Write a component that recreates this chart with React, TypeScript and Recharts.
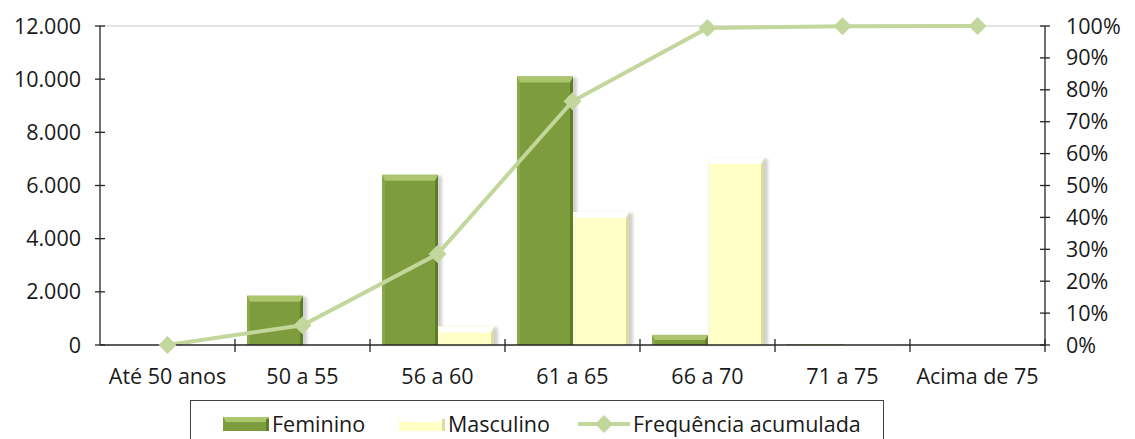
import React from 'react';
import { ComposedChart, Bar, Line, XAxis, YAxis, ReferenceLine } from 'recharts';

const categories = ['Até 50 anos', '50 a 55', '56 a 60', '61 a 65', '66 a 70', '71 a 75', 'Acima de 75'];
const feminino = [0, 1850, 6400, 10100, 380, 20, 0];
const masculino = [0, 0, 700, 5000, 7030, 15, 0];
const frequenciaAcumulada = [0, 6.2, 28.5, 76.4, 99.4, 99.9, 100];
const countTicks = [0, 2000, 4000, 6000, 8000, 10000, 12000];
const percentTicks = [0, 10, 20, 30, 40, 50, 60, 70, 80, 90, 100];

const data = categories.map((name, i) => ({
  name,
  feminino: feminino[i],
  masculino: masculino[i],
  freq: frequenciaAcumulada[i]
}));

const FONT = '"Open Sans", "Noto Sans", sans-serif';
const FONT_SIZE = 21.5;
const TEXT = '#1a1a1a';
const AXIS = '#262626';
const LINE_COLOR = '#c3d69b';

const femColors = { base: '#7d9c3d', top: '#abc66c', left: '#8aa84a', right: '#5f7c27' };
const mascColors = { base: '#ffffc6', top: '#ffffff', left: '#fbfbd8', right: '#dcdca0' };

const formatCount = (v: number) => String(v).replace(/\B(?=(\d{3})+(?!\d))/g, '.');

const bevelBar = (c: typeof femColors) => (props: any) => {
  const { x, y, width, height } = props;
  if (!height || height <= 0) return null;
  const b = Math.min(6, height / 2, width / 4);
  const s = Math.min(3, width / 6);
  return (
    <g>
      <rect x={x + 2} y={y + 1} width={width + 2} height={height - 1} fill="#000" opacity={0.18} filter="url(#soft)" />
      <rect x={x} y={y} width={width} height={height} fill={c.base} />
      <polygon points={`${x},${y} ${x + s},${y + b} ${x + s},${y + height} ${x},${y + height}`} fill={c.left} />
      <polygon
        points={`${x + width},${y} ${x + width - s},${y + b} ${x + width - s},${y + height} ${x + width},${y + height}`}
        fill={c.right}
      />
      <polygon points={`${x},${y} ${x + width},${y} ${x + width - s},${y + b} ${x + s},${y + b}`} fill={c.top} />
    </g>
  );
};

const Diamond = (props: any) => {
  const { cx, cy } = props;
  if (cx == null || cy == null) return null;
  const r = 9;
  return <polygon points={`${cx},${cy - r} ${cx + r},${cy} ${cx},${cy + r} ${cx - r},${cy}`} fill={LINE_COLOR} />;
};

const LeftTick = (props: any) => {
  const { x, y, payload } = props;
  return (
    <g>
      <line x1={x + 14} x2={x + 24} y1={y} y2={y} stroke={AXIS} strokeWidth={1.3} />
      <text x={x} y={y} dy="0.35em" textAnchor="end" fill={TEXT} fontSize={FONT_SIZE} fontFamily={FONT}>
        {formatCount(payload.value)}
      </text>
    </g>
  );
};

const RightTick = (props: any) => {
  const { x, y, payload } = props;
  return (
    <g>
      <line x1={x - 26} x2={x - 16} y1={y} y2={y} stroke={AXIS} strokeWidth={1.3} />
      <text x={x} y={y} dy="0.35em" textAnchor="start" fill={TEXT} fontSize={FONT_SIZE} fontFamily={FONT}>
        {payload.value}%
      </text>
    </g>
  );
};

const BottomTick = (props: any) => {
  const { x, y, payload, width } = props;
  const bw = (width || 945) / categories.length;
  return (
    <g>
      <line x1={x + bw / 2} x2={x + bw / 2} y1={y - 6} y2={y + 7} stroke={AXIS} strokeWidth={1.3} />
      <text x={x} y={y + 39} textAnchor="middle" fill={TEXT} fontSize={FONT_SIZE} fontFamily={FONT}>
        {payload.value}
      </text>
    </g>
  );
};

const LegendBox = ({ c }: { c: typeof femColors }) => (
  <svg width={46} height={14} style={{ display: 'block' }}>
    <rect x={0} y={0} width={46} height={14} fill={c.base} />
    <polygon points="0,0 46,0 43,5 3,5" fill={c.top} />
    <rect x={43} y={2} width={3} height={12} fill={c.right} />
  </svg>
);

const legendItems = [
  { label: 'Feminino', left: 32, icon: <LegendBox c={femColors} /> },
  { label: 'Masculino', left: 208, icon: <LegendBox c={mascColors} /> },
  {
    label: 'Frequência acumulada',
    left: 387,
    icon: (
      <svg width={52} height={18} style={{ display: 'block' }}>
        <line x1={0} x2={52} y1={9} y2={9} stroke={LINE_COLOR} strokeWidth={4} />
        <polygon points="26,0 35,9 26,18 17,9" fill={LINE_COLOR} />
      </svg>
    )
  }
];

export default function App() {
  return (
    <div style={{ position: 'absolute', left: 0, top: 0, width: 1135, height: 439, background: '#fff', overflow: 'hidden' }}>
      <ComposedChart
        width={1135}
        height={439}
        data={data}
        margin={{ top: 26, right: 0, left: 0, bottom: 54 }}
        barCategoryGap={12}
        barGap={0}
      >
        <defs>
          <filter id="soft" x="-20%" y="-20%" width="140%" height="140%">
            <feGaussianBlur stdDeviation="1.5" />
          </filter>
        </defs>
        <XAxis
          dataKey="name"
          height={40}
          axisLine={{ stroke: AXIS, strokeWidth: 1.3 }}
          tickLine={false}
          tickSize={0}
          tickMargin={0}
          tick={<BottomTick />}
          interval={0}
        />
        <YAxis
          yAxisId="left"
          width={100}
          domain={[0, 12000]}
          ticks={countTicks}
          axisLine={{ stroke: AXIS, strokeWidth: 1.3 }}
          tickLine={false}
          tickSize={0}
          tickMargin={19}
          tick={<LeftTick />}
          interval={0}
        />
        <YAxis
          yAxisId="right"
          orientation="right"
          width={90}
          domain={[0, 100]}
          ticks={percentTicks}
          axisLine={{ stroke: AXIS, strokeWidth: 1.3 }}
          tickLine={false}
          tickSize={0}
          tickMargin={21}
          tick={<RightTick />}
          interval={0}
        />
        <ReferenceLine yAxisId="left" y={12000} stroke="#e4e4e4" strokeWidth={2} />
        <Bar yAxisId="left" dataKey="feminino" shape={bevelBar(femColors)} isAnimationActive={false} />
        <Bar yAxisId="left" dataKey="masculino" shape={bevelBar(mascColors)} isAnimationActive={false} />
        <Line
          yAxisId="right"
          dataKey="freq"
          type="linear"
          stroke={LINE_COLOR}
          strokeWidth={4}
          dot={<Diamond />}
          activeDot={false}
          isAnimationActive={false}
        />
      </ComposedChart>
      <div
        style={{
          position: 'absolute',
          left: 190,
          top: 400,
          width: 694,
          height: 50,
          border: '1.5px solid #404040',
          boxSizing: 'border-box',
          fontFamily: FONT,
          fontSize: FONT_SIZE,
          color: TEXT
        }}
      >
        {legendItems.map((item) => (
          <div
            key={item.label}
            style={{ position: 'absolute', left: item.left, top: 9, height: 28, display: 'flex', alignItems: 'center' }}
          >
            {item.icon}
            <span style={{ marginLeft: 3, lineHeight: '28px' }}>{item.label}</span>
          </div>
        ))}
      </div>
    </div>
  );
}
